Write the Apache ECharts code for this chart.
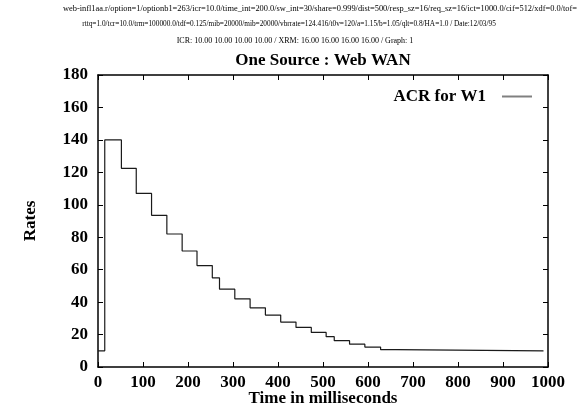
<!DOCTYPE html>
<html><head><meta charset="utf-8">
<script src="https://cdn.jsdelivr.net/npm/echarts@6/dist/echarts.min.js"></script>
<style>html,body{margin:0;padding:0;background:#fff}#c{width:579px;height:413px}</style>
</head><body><div id="c"></div>
<script>
const headerLines = [
  "web-infl1aa.r/option=1/optionb1=263/icr=10.0/time_int=200.0/sw_int=30/share=0.999/dist=500/resp_sz=16/req_sz=16/ict=1000.0/cif=512/xdf=0.0/tof=",
  "rttq=1.0/tcr=10.0/trm=100000.0/tdf=0.125/mib=20000/mib=20000/vbrrate=124.416/t0v=120/a=1.15/b=1.05/qlt=0.8/HA=1.0 / Date:12/03/95",
  "ICR: 10.00 10.00 10.00 10.00 / XRM: 16.00 16.00 16.00 16.00 / Graph: 1"
];
const titleText = "One Source : Web WAN";
const seriesName = "ACR for W1";
const times = [0, 15, 52, 85, 119, 153, 187, 220, 254, 270, 304, 338, 372, 406, 440, 474, 507, 525, 559, 593, 628, 662, 990];
const rates = [10, 140, 122.5, 107, 93.5, 82, 71.5, 62.5, 55, 48, 42, 36.5, 32, 27.7, 24.4, 21.3, 18.7, 16.2, 14.1, 12.3, 10.7, 10, 10];
const xTicks = [0, 100, 200, 300, 400, 500, 600, 700, 800, 900, 1000];
const yTicks = [0, 20, 40, 60, 80, 100, 120, 140, 160, 180];

// step vertices built from the data arrays (value holds until next time)
const stepData = [];
times.forEach((t, i) => {
  if (i > 0) stepData.push([t, rates[i - 1]]);
  stepData.push([t, rates[i]]);
});

const serif = "Liberation Serif";
const chart = echarts.init(document.getElementById('c'));
const axisLine = {show: true, onZero: false, lineStyle: {color: '#000', width: 1.5}};
const tick = {show: true, inside: true, length: 5, lineStyle: {color: '#000', width: 1}};
const small = s => ({fontFamily: serif, fontSize: s, fontWeight: 'normal', color: '#000'});
const bold = {fontFamily: serif, fontSize: 17, fontWeight: 'bold', color: '#000'};
chart.setOption({
  animation: false,
  backgroundColor: '#fff',
  title: [
    {text: headerLines[0], left: 63, top: 4.5, padding: 0, textStyle: small(8.4)},
    {text: headerLines[1], left: 289, top: 21, padding: 0, textAlign: 'center', textStyle: small(7.3)},
    {text: headerLines[2], left: 295, top: 37, padding: 0, textAlign: 'center', textStyle: small(8)},
    {text: titleText, left: 323, top: 52, padding: 0, textAlign: 'center', textStyle: bold}
  ],
  legend: {
    right: 47, top: 88, padding: 0, align: 'right', itemWidth: 30, itemHeight: 2,
    data: [{name: seriesName, icon: 'rect', itemStyle: {color: '#808080'}}],
    textStyle: Object.assign({}, bold, {padding: [0, 11, 0, 0]})
  },
  grid: {left: 98, top: 75, right: 31, bottom: 46, containLabel: false, outerBoundsMode: 'none'},
  xAxis: [
    {type: 'value', min: 0, max: 1000, interval: 100, position: 'bottom',
     name: 'Time in milliseconds', nameLocation: 'middle', nameGap: 23, nameMoveOverlap: false,
     nameTextStyle: bold,
     axisLine: axisLine, axisTick: tick, splitLine: {show: false},
     axisLabel: Object.assign({}, bold, {margin: 7,
       formatter: v => xTicks.includes(v) ? String(v) : ''})},
    {type: 'value', min: 0, max: 1000, interval: 100, position: 'top',
     axisLine: axisLine, axisTick: tick, axisLabel: {show: false}, splitLine: {show: false}}
  ],
  yAxis: [
    {type: 'value', min: 0, max: 180, interval: 20, position: 'left',
     name: 'Rates', nameLocation: 'middle', nameGap: 59, nameRotate: 90, nameMoveOverlap: false,
     nameTextStyle: bold,
     axisLine: axisLine, axisTick: tick, splitLine: {show: false},
     axisLabel: Object.assign({}, bold, {margin: 10,
       formatter: v => yTicks.includes(v) ? String(v) : ''})},
    {type: 'value', min: 0, max: 180, interval: 20, position: 'right',
     axisLine: axisLine, axisTick: tick, axisLabel: {show: false}, splitLine: {show: false}}
  ],
  series: [{
    name: seriesName, type: 'line', showSymbol: false, symbol: 'none',
    xAxisIndex: 0, yAxisIndex: 0,
    data: stepData,
    lineStyle: {color: '#1a1a1a', width: 1.2},
    itemStyle: {color: '#808080'}
  }]
});
</script></body></html>
